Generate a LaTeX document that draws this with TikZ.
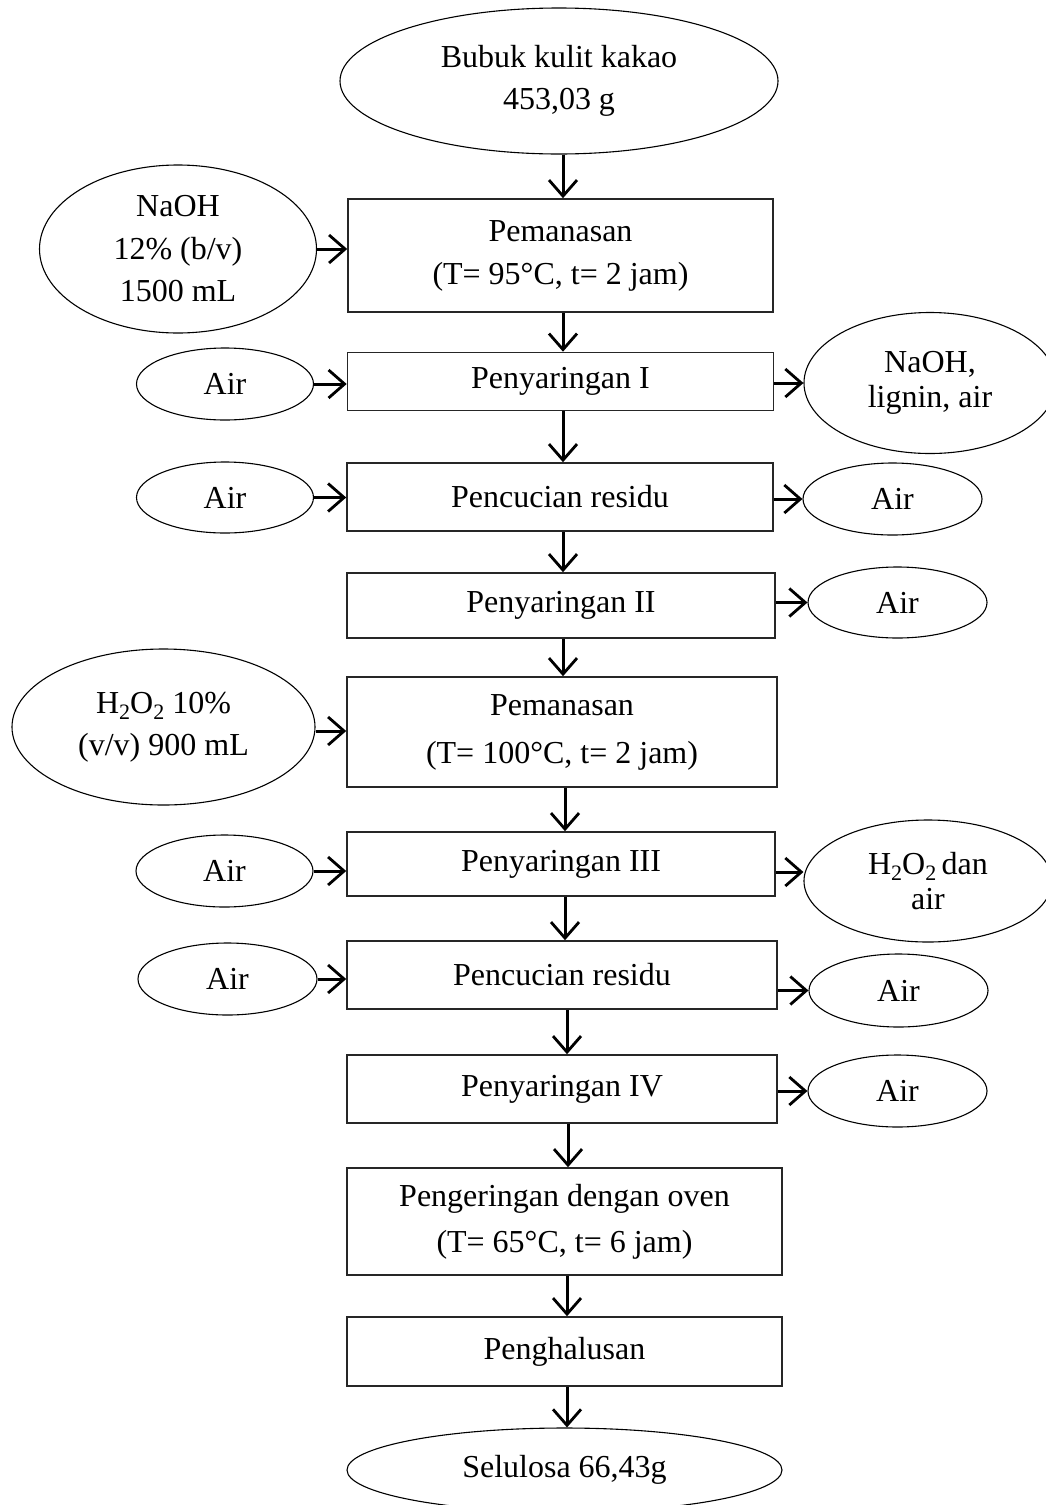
\documentclass[tikz,border=0pt]{standalone}
\usepackage{fontspec}
\setmainfont{Liberation Serif}
\usetikzlibrary{shapes.geometric,arrows.meta}
\newcommand\lowtwo{\raisebox{-6pt}{\fontsize{22}{22}\selectfont 2}}
\begin{document}
\begin{tikzpicture}[x=1pt,y=-1pt,
  ls/.style={font=\fontsize{32}{#1}\selectfont},
  ls/.default=42,
  ell/.style={ellipse,draw=black,line width=1.1pt,inner sep=0pt,align=center,ls},
  boxn/.style={rectangle,draw=black!85,line width=1.6pt,inner sep=0pt,align=center,ls},
  arr/.style={line width=3pt,-{Straight Barb[length=16pt,width=28pt,line width=2.8pt]}}]
\useasboundingbox[fill=white] (0,0) rectangle (1046,1505);

% main column
\node[ell,minimum width=438pt,minimum height=146pt] (e0) at (559,81) {Bubuk kulit kakao\\453,03 g};
\node[boxn,minimum width=425pt,minimum height=113pt,ls=43] (b1) at (560.5,255.5) {Pemanasan\\(T= 95°C, t= 2 jam)};
\node[boxn,minimum width=426pt,minimum height=58pt] (b2) at (560.5,381.5) {Penyaringan I};
\node[boxn,minimum width=426pt,minimum height=68pt] (b3) at (560,497) {Pencucian residu};
\node[boxn,minimum width=428pt,minimum height=65pt] (b4) at (561,605.5) {Penyaringan II};
\node[boxn,minimum width=430pt,minimum height=110pt,ls=48] (b5) at (562,732) {Pemanasan\\(T= 100°C, t= 2 jam)};
\node[boxn,minimum width=428pt,minimum height=64pt] (b6) at (561,864) {Penyaringan III};
\node[boxn,minimum width=430pt,minimum height=68pt] (b7) at (562,975) {Pencucian residu};
\node[boxn,minimum width=430pt,minimum height=68pt] (b8) at (562,1089) {Penyaringan IV};
\node[boxn,minimum width=435pt,minimum height=107pt,ls=46] (b9) at (564.5,1221.5) {Pengeringan dengan oven\\(T= 65°C, t= 6 jam)};
\node[boxn,minimum width=435pt,minimum height=69pt] (b10) at (564.5,1351.5) {Penghalusan};
\node[ell,minimum width=435pt,minimum height=84pt] (e1) at (564.5,1470) {Selulosa 66,43g};

% left inputs
\node[ell,minimum width=277pt,minimum height=168pt,ls=42.5] (l1) at (178,249) {NaOH\\12\% (b/v)\\1500 mL};
\node[ell,minimum width=177pt,minimum height=72pt] (l2) at (225,384) {Air};
\node[ell,minimum width=177pt,minimum height=71pt] (l3) at (225,497.5) {Air};
\node[ell,minimum width=303pt,minimum height=156pt] (l5) at (163.5,727) {H\lowtwo O\lowtwo{} 10\%\\(v/v) 900 mL};
\node[ell,minimum width=177pt,minimum height=72pt] (l6) at (224.5,871) {Air};
\node[ell,minimum width=179pt,minimum height=72pt] (l7) at (227.5,979) {Air};

% right outputs
\node[ell,minimum width=252pt,minimum height=141pt,ls=35] (r2) at (930,383) {NaOH,\\lignin, air};
\node[ell,minimum width=179pt,minimum height=72pt] (r3) at (892.5,499) {Air};
\node[ell,minimum width=179pt,minimum height=71pt] (r4) at (897.5,602.5) {Air};
\node[ell,minimum width=248pt,minimum height=122pt,ls=35] (r6) at (928,881) {H\lowtwo O\lowtwo\,dan\\air};
\node[ell,minimum width=179pt,minimum height=73pt] (r7) at (898.5,990.5) {Air};
\node[ell,minimum width=179pt,minimum height=72pt] (r8) at (897.5,1091) {Air};

% vertical arrows
\draw[arr] ([xshift=4pt]e0.south) -- ([xshift=2.5pt]b1.north);
\draw[arr] ([xshift=2.5pt]b1.south) -- ([xshift=2.5pt]b2.north);
\draw[arr] ([xshift=2.5pt]b2.south) -- ([xshift=3pt]b3.north);
\draw[arr] ([xshift=3pt]b3.south) -- ([xshift=2pt]b4.north);
\draw[arr] ([xshift=2pt]b4.south) -- ([xshift=1pt]b5.north);
\draw[arr] ([xshift=3pt]b5.south) -- ([xshift=4pt]b6.north);
\draw[arr] ([xshift=4pt]b6.south) -- ([xshift=3pt]b7.north);
\draw[arr] ([xshift=5pt]b7.south) -- ([xshift=5pt]b8.north);
\draw[arr] ([xshift=6pt]b8.south) -- ([xshift=3.5pt]b9.north);
\draw[arr] ([xshift=2.5pt]b9.south) -- ([xshift=2.5pt]b10.north);
\draw[arr] ([xshift=2.5pt]b10.south) -- ([xshift=2.5pt]e1.north);

% left arrows
\draw[arr] (l1.east) -- (l1.east -| b1.west);
\draw[arr] (l2.east) -- (l2.east -| b2.west);
\draw[arr] (l3.east) -- (l3.east -| b3.west);
\draw[arr] ([yshift=-4pt]l5.east) -- ([yshift=-4pt]l5.east -| b5.west);
\draw[arr] (l6.east) -- (l6.east -| b6.west);
\draw[arr] (l7.east) -- (l7.east -| b7.west);

% right arrows
\draw[arr] (b2.east |- r2.west) -- (r2.west);
\draw[arr] (b3.east |- r3.west) -- (r3.west);
\draw[arr] (b4.east |- r4.west) -- (r4.west);
\draw[arr] ([yshift=9pt]r6.west -| b6.east) -- ([yshift=9pt]r6.west);
\draw[arr] (b7.east |- r7.west) -- (r7.west);
\draw[arr] (b8.east |- r8.west) -- (r8.west);
\end{tikzpicture}
\end{document}
